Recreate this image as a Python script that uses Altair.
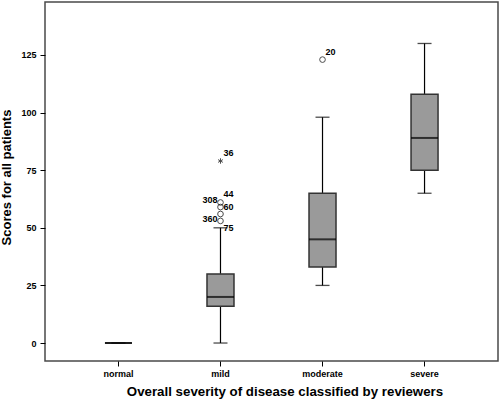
import altair as alt
import pandas as pd

# Box-plot summary per severity group
categories = ["normal", "mild", "moderate", "severe"]
lower = [0, 0, 25, 65]
q1 = [0, 16, 33, 75]
median = [0, 20, 45, 89]
q3 = [0, 30, 65, 108]
upper = [0, 50, 98, 130]

# Outliers (circles) and extremes (asterisks)
out_group = ["mild", "mild", "mild", "mild", "moderate"]
out_value = [61, 59, 56, 53, 123]
ext_group = ["mild"]
ext_value = [79]

# Case-number labels beside outlying points
lab_text = ["36", "44", "20", "60", "75", "308", "360"]
lab_group = ["mild", "mild", "moderate", "mild", "mild", "mild", "mild"]
lab_value = [79, 61, 123, 59, 50, 61, 53]
lab_side = ["upper", "upper", "upper", "right", "right", "left", "left"]

FONT = "Liberation Sans"

boxes = pd.DataFrame({"cat": categories, "lower": lower, "q1": q1,
                      "median": median, "q3": q3, "upper": upper})
outliers = pd.DataFrame({"cat": out_group, "value": out_value})
extremes = pd.DataFrame({"cat": ext_group, "value": ext_value})
labels = pd.DataFrame({"cat": lab_group, "value": lab_value,
                       "text": lab_text, "side": lab_side})

x_enc = alt.X("cat:N", sort=categories,
              scale=alt.Scale(paddingInner=0, paddingOuter=0.22),
              axis=alt.Axis(title="Overall severity of disease classified by reviewers",
                            labelAngle=0, labelFont=FONT, labelFontWeight="bold",
                            labelFontSize=9, labelColor="black", labelPadding=3,
                            tickSize=5, tickColor="black", domain=False,
                            titleFont=FONT, titleFontWeight="bold", titleFontSize=13.3,
                            titleColor="black", titleX=239.5, titleY=34,
                            titleBaseline="alphabetic"))
y_scale = alt.Scale(domain=[-7.8, 148], nice=False, zero=False)
y_axis = alt.Axis(title="Scores for all patients", values=[0, 25, 50, 75, 100, 125],
                  grid=False, domain=False, labelFont=FONT, labelFontWeight="bold",
                  labelFontSize=9, labelColor="black", labelPadding=4,
                  tickSize=5, tickColor="black",
                  titleFont=FONT, titleFontWeight="bold", titleFontSize=13,
                  titleColor="black", titleY=175, titlePadding=7)

base = alt.Chart(boxes).encode(x=x_enc)

whisk_lo = base.mark_rule(color="black", strokeWidth=1.2).encode(
    y=alt.Y("lower:Q", scale=y_scale, axis=y_axis), y2="q1:Q")
whisk_hi = base.mark_rule(color="black", strokeWidth=1.2).encode(
    y=alt.Y("q3:Q"), y2="upper:Q")
cap_lo = base.mark_tick(color="black", size=14, thickness=1.3).encode(y="lower:Q")
cap_hi = base.mark_tick(color="black", size=14, thickness=1.3).encode(y="upper:Q")
box = base.mark_bar(size=27, fill="#9a9a9a", stroke="#333333",
                    strokeWidth=1.5).encode(y="q1:Q", y2="q3:Q")
med = base.mark_tick(color="black", size=27, thickness=2).encode(y="median:Q")

circles = alt.Chart(outliers).mark_point(
    shape="circle", filled=False, stroke="black", strokeWidth=1, size=32
).encode(x=alt.X("cat:N", sort=categories), y="value:Q")

asterisk = "M0,-1L0,1M-0.87,-0.5L0.87,0.5M-0.87,0.5L0.87,-0.5"
stars = alt.Chart(extremes).mark_point(
    shape=asterisk, filled=False, stroke="black", strokeWidth=1, size=30
).encode(x=alt.X("cat:N", sort=categories), y="value:Q")

def label_layer(side, align, dx, dy):
    return alt.Chart(labels).transform_filter(
        alt.datum.side == side
    ).mark_text(font=FONT, fontWeight="bold", fontSize=9, color="black",
                align=align, baseline="middle", dx=dx, dy=dy).encode(
        x=alt.X("cat:N", sort=categories), y="value:Q", text="text:N")

lab_upper = label_layer("upper", "left", 3, -8)
lab_right = label_layer("right", "left", 3, 0)
lab_left = label_layer("left", "right", -3, -2)

chart = alt.layer(
    whisk_lo, whisk_hi, cap_lo, cap_hi, box, med, circles, stars,
    lab_upper, lab_right, lab_left
).properties(
    width=453, height=359,
    autosize=alt.AutoSizeParams(type="none"),
    padding={"left": 45, "top": 2, "right": 2, "bottom": 38},
    background="white"
).configure_view(stroke="#4a4a4a", strokeWidth=1.5)

chart.save("out.html", embed_options={"renderer": "svg", "actions": False})
